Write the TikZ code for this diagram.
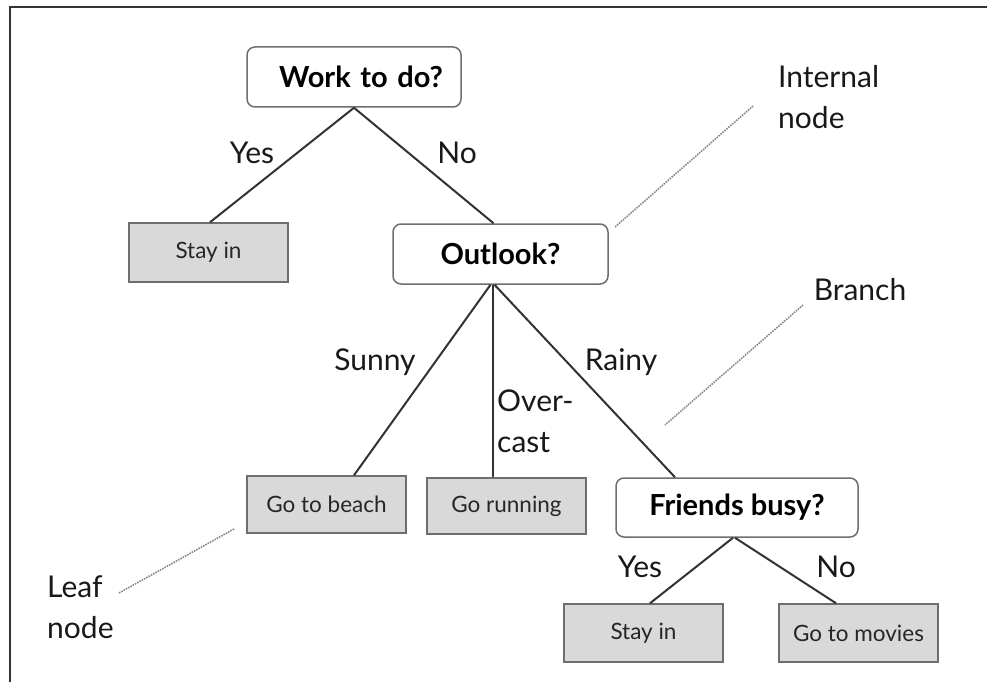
\documentclass[tikz,border=0pt]{standalone}
\usepackage{fontspec}
\setmainfont{Lato}
\definecolor{edgec}{HTML}{333333}
\definecolor{boxc}{HTML}{6E6E6E}
\definecolor{leaffill}{HTML}{D9D9D9}
\definecolor{dotc}{HTML}{8A8A8A}
\begin{document}
\begin{tikzpicture}[x=1pt,y=-1pt,
  decision/.style={draw=boxc,line width=1.5pt,rounded corners=8pt,fill=white,inner sep=0pt,
    font=\fontsize{29}{34}\selectfont\bfseries,text=black},
  leaf/.style={draw=boxc,line width=1.5pt,fill=leaffill,inner sep=0pt,
    font=\fontsize{22.5}{27}\selectfont,text=black!85},
  branch/.style={draw=edgec,line width=2pt},
  lbl/.style={font=\fontsize{30}{41}\selectfont,text=black!90,inner sep=0pt,anchor=base},
  note/.style={font=\fontsize{30}{41}\selectfont,text=black!90,inner sep=0pt,align=left,anchor=west},
  pointer/.style={draw=dotc,line width=1.6pt,densely dotted}]
\useasboundingbox (0,0) rectangle (987,682);
\fill[white] (0,0) rectangle (987,682);
% frame
\draw[edgec,line width=2pt] (10,682) -- (10,7) -- (987,7);
% nodes
\node[decision,minimum width=214pt,minimum height=60pt,text width=200pt,align=center] (work) at (354,77) {\hspace*{14pt}Work to do?};
\node[leaf,minimum width=159pt,minimum height=59pt] (stay1) at (208.5,252.5) {Stay in};
\node[decision,minimum width=215pt,minimum height=60pt] (outlook) at (500.5,254) {Outlook?};
\node[leaf,minimum width=159pt,minimum height=57pt] (beach) at (326.5,504.5) {Go to beach};
\node[leaf,minimum width=159pt,minimum height=56pt] (running) at (506.5,506) {Go running};
\node[decision,minimum width=242pt,minimum height=59pt] (friends) at (737,507.5) {Friends busy?};
\node[leaf,minimum width=159pt,minimum height=58pt] (stay2) at (643.5,633) {Stay in};
\node[leaf,minimum width=159pt,minimum height=58pt] (movies) at (858.5,633) {Go to movies};
% branches
\draw[branch] (work.south) -- ([xshift=1.5pt]stay1.north);
\draw[branch] (work.south) -- ([xshift=-7pt]outlook.north);
\draw[branch] ([xshift=-10pt]outlook.south) -- ([xshift=27.5pt]beach.north);
\draw[branch] ([xshift=-7.5pt]outlook.south) -- ([xshift=-13.5pt]running.north);
\draw[branch] ([xshift=-6pt]outlook.south) -- ([xshift=-62pt]friends.north);
\draw[branch] ([xshift=-4pt]friends.south) -- ([xshift=6.5pt]stay2.north);
\draw[branch] ([xshift=-2pt]friends.south) -- ([xshift=-22.5pt]movies.north);
% branch labels
\node[lbl] (lyes1) at (252,163) {Yes};
\node[lbl] (lno1) at (457,163) {No};
\node[lbl] (lsunny) at (375,370) {Sunny};
\node[lbl] (lrainy) at (621,370) {Rainy};
\node[note] (lover) at (497,421) {Over-\\cast};
\node[lbl] (lyes2) at (640,577) {Yes};
\node[lbl] (lno2) at (836,577) {No};
% annotations
\node[note] (ninternal) at (778,97) {Internal\\node};
\node[lbl] (nbranch) at (860,300) {Branch};
\node[note] (nleaf) at (47,607) {Leaf\\node};
\coordinate (pi1) at (753,106);
\coordinate (pi2) at (615,227);
\coordinate (pb1) at (803,305);
\coordinate (pb2) at (665,425);
\coordinate (pl1) at (119,593);
\coordinate (pl2) at (234,529);
\draw[pointer] (pi1) -- (pi2);
\draw[pointer] (pb1) -- (pb2);
\draw[pointer] (pl1) -- (pl2);
\end{tikzpicture}
\end{document}
